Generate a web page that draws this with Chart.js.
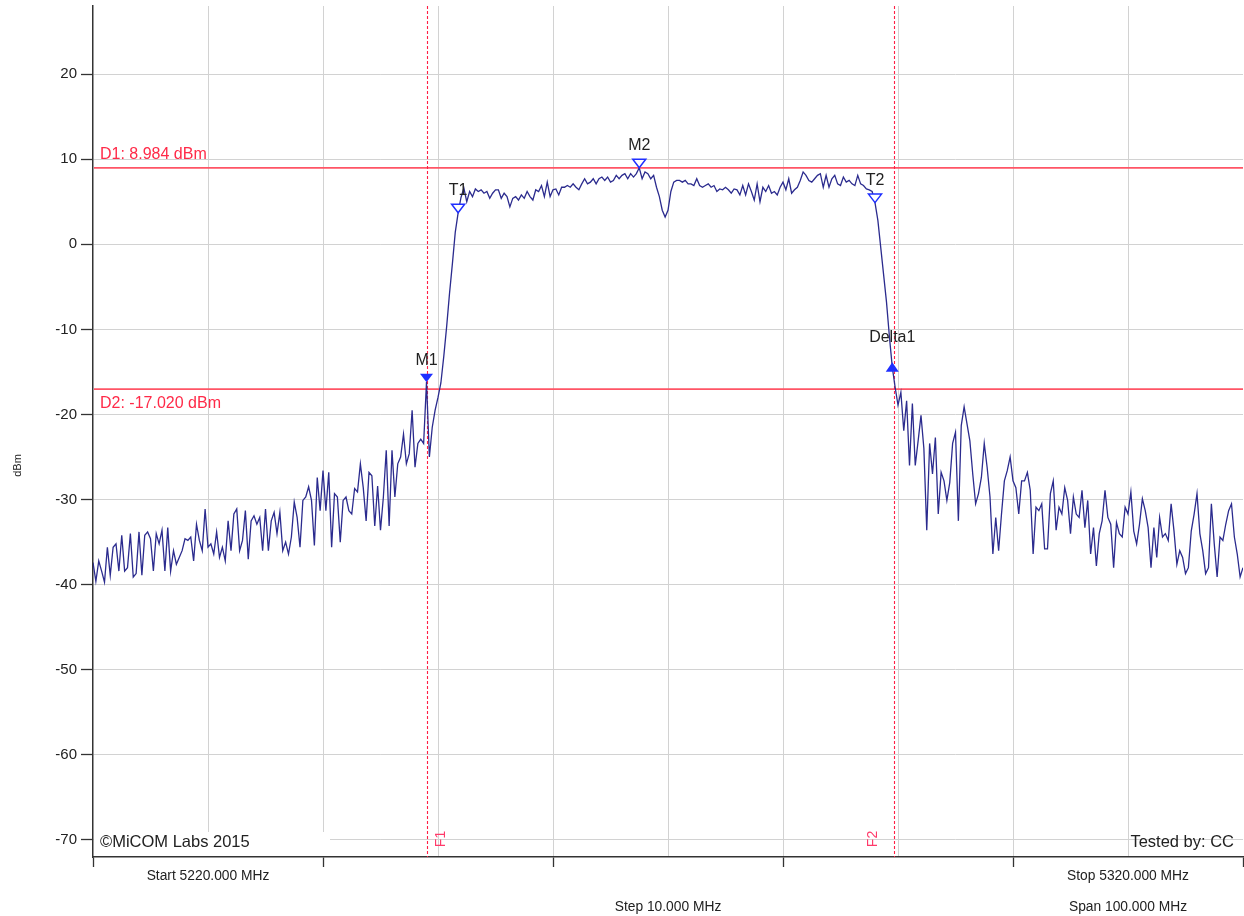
<!DOCTYPE html>
<html>
<head>
<meta charset="utf-8">
<title>Spectrum trace 5220–5320 MHz</title>
<script src="https://cdn.jsdelivr.net/npm/chart.js@4.4.1/dist/chart.umd.min.js"></script>
<style>
  html, body { margin: 0; padding: 0; background: #ffffff; }
  canvas { display: block; }
</style>
</head>
<body>
<canvas id="spectrum" width="1244" height="916"></canvas>
<script>
// ---- Sweep settings ----
const SWEEP_START_MHZ = 5220;
const SWEEP_STOP_MHZ = 5320;
const SWEEP_POINT_STEP_MHZ = 0.25;
const GRID_STEP_MHZ = 10;

// ---- Measured trace (dBm), one value per sweep point ----
const TRACE_LOWER_SKIRT = [
  -37.4, -39.6, -37.2, -38.4, -39.7, -35.6, -38.9, -35.6, -35.2,
  -38.4, -34.2, -38.4, -38.0, -34.0, -39.1, -38.7, -33.8, -38.9, -34.2,
  -33.8, -34.6, -38.4, -34.0, -35.2, -33.6, -38.4, -33.3, -38.4, -36.0,
  -37.6, -36.8, -36.0, -34.6, -34.8, -34.4, -37.2, -32.9, -34.8,
  -36.0, -31.1, -35.6, -35.2, -36.4, -33.8, -36.8, -35.6, -37.2,
  -32.5, -36.0, -31.7, -31.1, -36.0, -34.8, -31.3, -37.0, -32.5, -31.9,
  -32.9, -32.1, -36.0, -31.1, -36.0, -32.5, -31.5, -34.0, -31.5, -36.0,
  -35.0, -36.4, -34.4, -30.3, -32.1, -35.6, -30.1, -29.7, -28.5,
  -30.1, -35.4, -27.4, -31.3, -26.6, -31.3, -26.8, -35.6, -29.3, -29.7,
  -35.0, -30.1, -29.7, -31.3, -31.7, -28.7, -29.1, -25.8, -28.6, -32.5,
  -26.8, -27.2, -33.1, -28.4, -33.6, -29.7, -24.2, -33.1, -24.2, -29.7,
  -25.8, -25.0, -22.3, -25.8, -24.6, -19.5, -26.2, -23.4, -22.9, -23.4
];
const TRACE_LOWER_EDGE = [
  -16.2, -25.0, -21.5, -19.5, -18.0, -16.3, -13.2, -9.7, -5.8, -2.3, 1.4, 3.7, 5.5, 6.6
];
const TRACE_PASSBAND = [
  5.0, 6.2, 5.6, 6.5, 6.2, 6.4, 6.0, 6.2, 5.4, 6.0, 6.4,
  6.4, 5.4, 6.0, 5.6, 4.4, 5.4, 5.6, 5.2, 5.8, 5.4,
  6.2, 5.6, 5.2, 6.4, 6.2, 6.9, 5.6, 7.3, 5.6, 6.4,
  6.5, 5.8, 6.7, 6.7, 6.9, 6.7, 7.1, 6.7, 6.4, 7.1,
  7.7, 7.1, 7.3, 7.7, 7.1, 7.7, 7.9, 7.5, 7.9, 7.3,
  7.5, 8.1, 7.7, 8.1, 8.3, 7.7, 8.3, 7.9, 8.3, 8.984,
  7.7, 8.5, 8.3, 7.7, 8.1, 6.7, 5.6, 4.0, 3.2, 4.0,
  6.2, 7.3, 7.5,
  7.5, 7.3, 7.5, 7.1, 7.1, 6.9, 7.7, 6.9, 6.7, 6.9,
  7.1, 6.7, 6.9, 6.2, 6.5, 6.4, 6.7, 6.4, 6.0, 6.5,
  6.4, 5.8, 6.9, 5.8, 7.1, 6.2, 5.2, 7.1, 5.0, 6.7,
  6.2, 6.9, 6.0, 6.2, 5.8, 6.7, 7.3, 6.4, 7.7, 6.0,
  6.4, 6.7, 7.5, 8.5, 8.1, 7.5, 7.3, 7.7, 8.1, 8.3,
  6.7, 8.1, 6.7, 7.7, 8.1, 7.1, 6.9, 7.9, 7.3, 7.5,
  7.1, 6.9, 8.1, 7.1, 6.9, 6.5, 6.4, 6.2
];
const TRACE_UPPER_EDGE = [4.9, 2.8, -0.4, -3.6, -6.8, -10.8, -14.4];
const TRACE_UPPER_SKIRT = [
  -16.8, -18.9, -17.4, -21.9, -18.4, -26.0, -18.7, -26.0, -23.1, -20.1,
  -24.0, -33.6, -23.4, -27.0, -22.7, -31.7, -26.8, -27.8, -30.1, -28.0,
  -23.4, -22.1, -32.5, -21.3, -19.1, -21.1, -23.1, -27.0, -30.5, -29.3,
  -27.4, -23.4, -26.2, -29.7, -36.4, -32.1, -36.0, -31.7, -27.8, -26.6,
  -25.0, -27.8, -28.6, -31.7, -27.8, -27.8, -26.8, -28.9, -36.4, -30.9,
  -31.3, -30.5, -35.8, -35.8, -29.3, -27.8, -33.6, -30.9, -31.7, -28.6,
  -30.1, -34.0, -29.7, -31.7, -32.1, -28.9, -33.3, -30.1, -36.4, -33.3,
  -37.8, -34.0, -32.5, -28.9, -32.1, -32.9, -38.0, -32.7, -34.0,
  -34.4, -30.9, -31.7, -29.1, -33.7, -35.2, -32.9, -29.9, -31.3, -33.3,
  -38.0, -33.3, -36.8, -32.1, -34.4, -34.0, -34.8, -30.5, -33.7, -37.6,
  -36.0, -36.8, -38.7, -38.0, -33.7, -31.7, -29.3, -34.0, -36.0, -38.7,
  -38.0, -30.5, -35.2, -39.1, -34.4, -34.8, -32.9, -31.3, -30.5, -34.4,
  -36.4, -39.1, -38.0
];

// ---- Display lines, frequency lines and markers ----
const LIMIT_NAMES = ['D1', 'D2'];
const LIMIT_DBM = [8.984, -17.020];
const FREQ_LINE_NAMES = ['F1', 'F2'];
const FREQ_LINE_MHZ = [5249.05, 5289.65];
const MARKER_NAMES = ['M1', 'T1', 'M2', 'T2', 'Delta1'];
const MARKER_MHZ = [5249.0, 5251.75, 5267.5, 5288.0, 5289.5];
const MARKER_DBM = [-16.2, 3.7, 8.984, 4.9, -14.4];

// ---- Axis ticks ----
const Y_MIN = -72;
const Y_MAX = 28;
const Y_TICKS = [-70, -60, -50, -40, -30, -20, -10, 0, 10, 20];

// ---- Styling ----
const FONT = '"Liberation Sans", Arial, "DejaVu Sans", sans-serif';
const STYLE = {
  trace: '#2b2b8e',
  limitLine: '#ff5566',
  limitText: '#ff2a48',
  freqLine: '#ff1f44',
  freqText: '#ff3a6a',
  marker: '#1f2fff',
  text: '#222222',
  axis: '#333333',
  grid: '#d2d2d2'
};
// shape of each marker: down/up triangle, filled or outlined
const MARKER_SHAPE = {
  M1: { dir: 'down', filled: true },
  T1: { dir: 'down', filled: false },
  M2: { dir: 'down', filled: false },
  T2: { dir: 'down', filled: false },
  Delta1: { dir: 'up', filled: true }
};
const FREQ_LABEL_OFFSET = { F1: 14, F2: -21 };

const TRACE_DBM = [].concat(
  TRACE_LOWER_SKIRT, TRACE_LOWER_EDGE, TRACE_PASSBAND, TRACE_UPPER_EDGE, TRACE_UPPER_SKIRT
);
const tracePoints = TRACE_DBM.map((v, i) => ({ x: SWEEP_START_MHZ + i * SWEEP_POINT_STEP_MHZ, y: v }));

const xGridValues = [];
for (let f = SWEEP_START_MHZ; f <= SWEEP_STOP_MHZ + 1e-9; f += GRID_STEP_MHZ) xGridValues.push(f);

const fmt3 = v => v.toFixed(3);

const overlay = {
  id: 'analyzerOverlay',
  beforeDatasetsDraw(chart) {
    const { ctx, chartArea: a, scales: { x, y } } = chart;
    ctx.save();
    ctx.strokeStyle = STYLE.limitLine;
    ctx.lineWidth = 1.6;
    LIMIT_DBM.forEach(v => {
      const py = y.getPixelForValue(v);
      ctx.beginPath();
      ctx.moveTo(a.left + 1, py);
      ctx.lineTo(a.right, py);
      ctx.stroke();
    });
    ctx.strokeStyle = STYLE.freqLine;
    ctx.lineWidth = 1.1;
    ctx.setLineDash([3, 2]);
    FREQ_LINE_MHZ.forEach(f => {
      const px = Math.round(x.getPixelForValue(f)) + 0.5;
      ctx.beginPath();
      ctx.moveTo(px, a.top);
      ctx.lineTo(px, a.bottom);
      ctx.stroke();
    });
    ctx.restore();
  },
  afterDatasetsDraw(chart) {
    const { ctx, chartArea: a, scales: { x, y } } = chart;
    ctx.save();

    // display line captions
    ctx.font = '16px ' + FONT;
    ctx.fillStyle = STYLE.limitText;
    ctx.textAlign = 'left';
    LIMIT_NAMES.forEach((name, i) => {
      const py = y.getPixelForValue(LIMIT_DBM[i]);
      const label = name + ': ' + fmt3(LIMIT_DBM[i]) + ' dBm';
      if (i === 0) {
        ctx.textBaseline = 'bottom';
        ctx.fillText(label, a.left + 7, py - 5);
      } else {
        ctx.textBaseline = 'top';
        ctx.fillText(label, a.left + 7, py + 6);
      }
    });

    // trace markers
    MARKER_NAMES.forEach((name, i) => {
      const px = x.getPixelForValue(MARKER_MHZ[i]);
      const py = y.getPixelForValue(MARKER_DBM[i]);
      const shape = MARKER_SHAPE[name];
      const hw = 6.5, h = 8.5;
      ctx.beginPath();
      let labelBottom;
      if (shape.dir === 'down') {
        ctx.moveTo(px - hw, py - h);
        ctx.lineTo(px + hw, py - h);
        ctx.lineTo(px, py);
        labelBottom = py - 14;
      } else {
        ctx.moveTo(px - hw, py + 5);
        ctx.lineTo(px + hw, py + 5);
        ctx.lineTo(px, py - 4.5);
        labelBottom = py - 21;
      }
      ctx.closePath();
      if (shape.filled) {
        ctx.fillStyle = STYLE.marker;
        ctx.fill();
      } else {
        ctx.fillStyle = '#ffffff';
        ctx.fill();
        ctx.lineWidth = 1.5;
        ctx.strokeStyle = STYLE.marker;
        ctx.stroke();
      }
      ctx.font = '16px ' + FONT;
      ctx.fillStyle = STYLE.text;
      ctx.textAlign = 'center';
      ctx.textBaseline = 'bottom';
      ctx.fillText(name, px, labelBottom);
    });

    // copyright caption with its backing box
    ctx.fillStyle = '#ffffff';
    ctx.fillRect(a.left + 1, a.bottom - 25, 236, 24);
    ctx.font = '16.5px ' + FONT;
    ctx.fillStyle = STYLE.text;
    ctx.textBaseline = 'middle';
    ctx.textAlign = 'left';
    ctx.fillText('\u00A9MiCOM Labs 2015', a.left + 7, a.bottom - 15);
    ctx.textAlign = 'right';
    ctx.fillText('Tested by: CC', a.right - 9, a.bottom - 15);

    // frequency line captions, written upward
    ctx.font = '14px ' + FONT;
    ctx.fillStyle = STYLE.freqText;
    FREQ_LINE_NAMES.forEach((name, i) => {
      const px = x.getPixelForValue(FREQ_LINE_MHZ[i]) + FREQ_LABEL_OFFSET[name];
      ctx.save();
      ctx.translate(px, a.bottom - 18);
      ctx.rotate(-Math.PI / 2);
      ctx.textAlign = 'center';
      ctx.textBaseline = 'middle';
      ctx.fillText(name, 0, 0);
      ctx.restore();
    });
    ctx.restore();
  },
  afterDraw(chart) {
    const { ctx, chartArea: a, scales: { x } } = chart;
    ctx.save();
    ctx.font = '13.8px ' + FONT;
    ctx.fillStyle = STYLE.text;
    ctx.textAlign = 'center';
    ctx.textBaseline = 'middle';
    const span = SWEEP_STOP_MHZ - SWEEP_START_MHZ;
    const row1 = a.bottom + 19, row2 = a.bottom + 50;
    ctx.fillText('Start ' + fmt3(SWEEP_START_MHZ) + ' MHz', x.getPixelForValue(SWEEP_START_MHZ + GRID_STEP_MHZ), row1);
    ctx.fillText('Stop ' + fmt3(SWEEP_STOP_MHZ) + ' MHz', x.getPixelForValue(SWEEP_STOP_MHZ - GRID_STEP_MHZ), row1);
    ctx.fillText('Step ' + fmt3(GRID_STEP_MHZ) + ' MHz', x.getPixelForValue((SWEEP_START_MHZ + SWEEP_STOP_MHZ) / 2), row2);
    ctx.fillText('Span ' + fmt3(span) + ' MHz', x.getPixelForValue(SWEEP_STOP_MHZ - GRID_STEP_MHZ), row2);

    // y axis title
    ctx.font = '11px ' + FONT;
    ctx.translate(18, (a.top + a.bottom) / 2 + 34);
    ctx.rotate(-Math.PI / 2);
    ctx.fillText('dBm', 0, 0);
    ctx.restore();
  }
};

new Chart(document.getElementById('spectrum'), {
  type: 'line',
  data: {
    datasets: [{
      data: tracePoints,
      borderColor: STYLE.trace,
      borderWidth: 1.3,
      pointRadius: 0,
      tension: 0,
      fill: false
    }]
  },
  options: {
    responsive: false,
    animation: false,
    devicePixelRatio: 1,
    events: [],
    layout: { padding: { top: 6, right: 1, left: 0, bottom: 0 } },
    plugins: { legend: { display: false }, tooltip: { enabled: false } },
    scales: {
      x: {
        type: 'linear',
        min: SWEEP_START_MHZ,
        max: SWEEP_STOP_MHZ,
        afterBuildTicks: s => { s.ticks = xGridValues.map(v => ({ value: v })); },
        afterFit: s => { s.height = 59; s.paddingLeft = 0; s.paddingRight = 0; },
        ticks: { display: false },
        grid: {
          color: c => (c.tick && (c.tick.value === SWEEP_START_MHZ || c.tick.value === SWEEP_STOP_MHZ)) ? 'rgba(0,0,0,0)' : STYLE.grid,
          lineWidth: 1,
          drawTicks: true,
          tickLength: 10,
          tickWidth: 1.3,
          tickColor: c => (c.tick && Math.round(c.tick.value - SWEEP_START_MHZ) % 20 === 0) ? STYLE.axis : 'rgba(0,0,0,0)'
        },
        border: { color: STYLE.axis, width: 1.5 }
      },
      y: {
        min: Y_MIN,
        max: Y_MAX,
        afterBuildTicks: s => { s.ticks = Y_TICKS.map(v => ({ value: v })); },
        afterFit: s => { s.width = 93; s.paddingTop = 0; s.paddingBottom = 0; },
        ticks: { font: { family: FONT, size: 15 }, color: STYLE.text, padding: 4 },
        grid: {
          color: STYLE.grid,
          lineWidth: 1,
          drawTicks: true,
          tickLength: 12,
          tickWidth: 1.3,
          tickColor: STYLE.axis
        },
        border: { color: STYLE.axis, width: 1.5 }
      }
    }
  },
  plugins: [overlay]
});
</script>
</body>
</html>
